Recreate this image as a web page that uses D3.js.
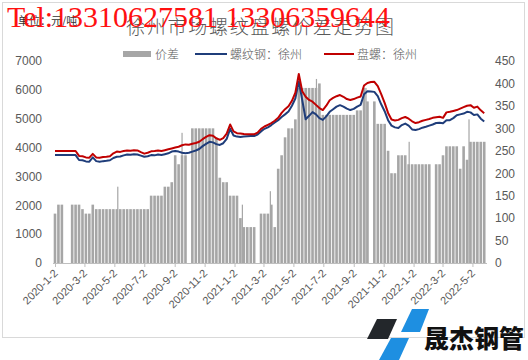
<!DOCTYPE html>
<html><head><meta charset="utf-8">
<script src="https://cdn.jsdelivr.net/npm/d3@7"></script>
<style>html,body{margin:0;padding:0;background:#fff;}svg{display:block;}</style>
</head><body>
<svg id="c" width="528" height="360"></svg>
<script>
// ---- data ----
const startDate = "2020-01-02";           // first weekly observation
const weekCount = 126;                     // weekly categories
const spreadWeekly = [110,130,130,null,null,130,130,130,120,110,110,130,120,120,120,120,120,120,120,120,
  120,120,120,120,120,120,120,120,150,150,150,150,170,170,180,240,220,240,240,null,
  300,300,300,300,300,300,300,280,190,180,180,150,150,150,100,80,80,80,80,null,
  110,110,110,130,80,210,240,280,300,300,320,390,390,390,390,390,390,400,330,330,
  330,330,330,330,330,330,330,330,340,340,390,360,null,360,310,310,310,250,200,200,
  240,240,240,220,220,220,220,220,220,220,null,220,220,240,260,260,260,260,210,260,
  230,270,270,270,270,270];
const rebarXuzhou = [3740,3740,3740,3740,3740,3740,3740,3570,3560,3520,3510,3660,3530,3510,3530,3540,3560,3640,3680,3690,
  3730,3760,3750,3770,3760,3720,3680,3700,3740,3730,3760,3740,3770,3800,3860,3880,3860,3820,3800,3820,
  3860,3900,3950,4050,4130,4200,4180,4120,4090,4150,4300,4650,4420,4380,4370,4380,4390,4400,4400,4450,
  4560,4650,4700,4780,4870,4950,5060,5150,5250,5450,5700,6300,5650,4980,5100,5230,5150,5020,4960,5080,
  5240,5330,5420,5470,5420,5350,5300,5340,5420,5480,5850,5950,5940,5930,5780,5500,5260,4950,4760,4700,
  4680,4780,4830,4760,4630,4610,4640,4690,4720,4760,4800,4850,4860,4840,4950,4950,5020,5120,5150,5180,
  5240,5220,5130,5150,5000,4900];
const coilXuzhou = [3880,3880,3880,3880,3880,3880,3880,3710,3700,3660,3650,3780,3660,3650,3670,3680,3700,3800,3860,3850,
  3880,3900,3890,3910,3900,3840,3790,3820,3870,3880,3900,3880,3910,3940,3970,4000,4030,4080,4110,4100,
  4130,4160,4200,4290,4370,4430,4410,4320,4270,4330,4480,4800,4560,4500,4490,4470,4460,4460,4460,4520,
  4650,4730,4790,4850,4930,5030,5200,5330,5430,5620,5900,6550,5950,5760,5650,5590,5480,5370,5300,5450,
  5640,5720,5780,5820,5760,5680,5650,5680,5730,5770,6150,6240,6270,6280,6130,5850,5550,5200,4970,4940,
  4960,5020,5060,5000,4910,4850,4880,4930,4960,4990,5030,5050,5070,5030,5220,5240,5270,5300,5350,5400,
  5450,5470,5380,5420,5290,5190];
// single-day spikes of the spread (thin bars)
const spikeDates = ["2020-05-09","2020-09-17","2020-11-20","2021-01-18","2021-03-16","2021-06-18","2021-09-27","2021-12-24","2022-04-25"];
const spikeValues = [170,290,230,130,160,410,390,270,320];
const tickLabels = ["2020-1-2","2020-3-2","2020-5-2","2020-7-2","2020-9-2","2020-11-2","2021-1-2","2021-3-2",
  "2021-5-2","2021-7-2","2021-9-2","2021-11-2","2022-1-2","2022-3-2","2022-5-2"];
const leftTicks = [0,1000,2000,3000,4000,5000,6000,7000];
const rightTicks = [0,50,100,150,200,250,300,350,400,450];
const seriesNames = ["价差","螺纹钢：徐州","盘螺：徐州"];
const titleText = "徐州市场螺纹盘螺价差走势图";
const unitText = "单位：元/吨";
const telText = "Tel:13310627581 13306359644";
const logoText = "晟杰钢管";

// ---- setup ----
const svg = d3.select("#c");
const parse = d3.timeParse("%Y-%m-%d");
const parseTick = d3.timeParse("%Y-%-m-%-d");
const t0 = parse(startDate);
const weeks = d3.range(weekCount).map(i => d3.timeDay.offset(t0, 7*i));

const x = d3.scaleTime().domain([t0, parse("2022-05-28")]).range([55, 485.2]);
const yL = d3.scaleLinear().domain([0,7000]).range([263,61]);
const yR = d3.scaleLinear().domain([0,450]).range([263,61]);
const axisFont = "'Liberation Sans', Arial, sans-serif";
const grey = "#595959";

svg.append("rect").attr("x",0).attr("y",0).attr("width",528).attr("height",360).attr("fill","#fff");
svg.append("rect").attr("x",2.5).attr("y",2.5).attr("width",522).attr("height",335)
  .attr("fill","none").attr("stroke","#D9D9D9").attr("stroke-width",1);

// bars
const barW = 2.6;
svg.append("g").selectAll("rect").data(weeks.map((d,i)=>({d, v: spreadWeekly[i]})).filter(o=>o.v!=null))
  .join("rect")
  .attr("x", o => x(o.d) - barW/2).attr("width", barW)
  .attr("y", o => yR(o.v)).attr("height", o => yR(0) - yR(o.v))
  .attr("fill", "#A6A6A6");
svg.append("g").selectAll("rect").data(spikeDates.map((d,i)=>({d: parse(d), v: spikeValues[i]})))
  .join("rect")
  .attr("x", o => x(o.d) - 0.6).attr("width", 1.2)
  .attr("y", o => yR(o.v)).attr("height", o => yR(0) - yR(o.v))
  .attr("fill", "#A6A6A6");

// x axis
const tickDates = tickLabels.map(s => parseTick(s));
const xAxis = d3.axisBottom(x).tickValues(tickDates).tickSize(4).tickSizeOuter(0)
  .tickFormat((d,i) => tickLabels[i]);
const gx = svg.append("g").attr("transform","translate(0,263)").call(xAxis);
gx.select(".domain").attr("stroke","#BFBFBF").attr("d","M53,0.5H487");
gx.selectAll(".tick line").attr("stroke","#BFBFBF");
gx.selectAll(".tick text").attr("fill",grey).attr("font-family",axisFont).attr("font-size",11)
  .attr("text-anchor","end").attr("dy",0).attr("y",0)
  .attr("transform","translate(3,11) rotate(-45)");

// left axis
const gl = svg.append("g").attr("transform","translate(48,0)")
  .call(d3.axisLeft(yL).tickValues(leftTicks).tickSize(0).tickPadding(6).tickFormat(d3.format("d")));
gl.select(".domain").remove();
gl.selectAll("text").attr("fill",grey).attr("font-family",axisFont).attr("font-size",12);

// right axis
const gr = svg.append("g").attr("transform","translate(490,0)")
  .call(d3.axisRight(yR).tickValues(rightTicks).tickSize(0).tickPadding(5).tickFormat(d3.format("d")));
gr.select(".domain").remove();
gr.selectAll("text").attr("fill",grey).attr("font-family",axisFont).attr("font-size",12);

// lines
const line = d3.line().x((v,i)=>x(weeks[i])).y(v=>yL(v)).curve(d3.curveLinear);
svg.append("path").attr("d", line(rebarXuzhou)).attr("fill","none")
  .attr("stroke","#1F3D7A").attr("stroke-width",2).attr("stroke-linejoin","round");
svg.append("path").attr("d", line(coilXuzhou)).attr("fill","none")
  .attr("stroke","#C00000").attr("stroke-width",2).attr("stroke-linejoin","round");

// legend
const cjk = "'Noto Sans CJK SC', sans-serif";
const lg = svg.append("g");
lg.append("rect").attr("x",123).attr("y",51).attr("width",28).attr("height",6).attr("fill","#A6A6A6");
lg.append("text").attr("x",155).attr("y",58.5).text(seriesNames[0]);
lg.append("line").attr("x1",195).attr("x2",227).attr("y1",54).attr("y2",54).attr("stroke","#1F3D7A").attr("stroke-width",2);
lg.append("text").attr("x",230).attr("y",58.5).text(seriesNames[1]);
lg.append("line").attr("x1",324).attr("x2",354).attr("y1",54).attr("y2",54).attr("stroke","#C00000").attr("stroke-width",2);
lg.append("text").attr("x",357).attr("y",58.5).text(seriesNames[2]);
lg.selectAll("text").attr("font-family",cjk).attr("font-size",12).attr("fill",grey).attr("font-weight",300);

// title & unit
svg.append("text").attr("x",260).attr("y",34).attr("text-anchor","middle")
  .attr("font-family",cjk).attr("font-size",19).attr("font-weight",300).attr("fill",grey)
  .attr("textLength",268).attr("lengthAdjust","spacing").text(titleText);
svg.append("text").attr("x",18).attr("y",25)
  .attr("font-family",cjk).attr("font-size",11).attr("fill","#333").text(unitText);

// phone watermark
svg.append("text").attr("x",7).attr("y",27)
  .attr("font-family","'Liberation Serif', 'Times New Roman', serif").attr("font-size",30)
  .attr("fill","#FF1010").attr("textLength",383).attr("lengthAdjust","spacingAndGlyphs").text(telText);

// logo
const logo = svg.append("g");
logo.append("polygon").attr("points","377,319 397,319 388,339 367,339").attr("fill","#23272B");
logo.append("polygon").attr("points","412,309 429,309 420,332 401,332").attr("fill","#1E8FE1");
logo.append("polygon").attr("points","391,338 409,338 399,360 379,360").attr("fill","#1E8FE1");
logo.append("text").attr("x",424).attr("y",348).attr("font-family",cjk).attr("font-weight",900)
  .attr("font-size",25).attr("fill","#111").attr("textLength",100).text(logoText);
</script>
</body></html>
